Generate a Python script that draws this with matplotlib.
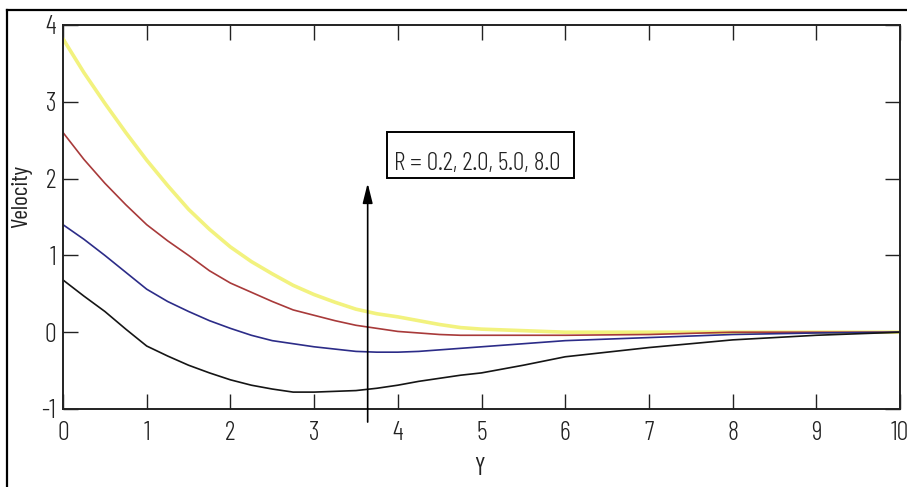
import matplotlib
matplotlib.use("Agg")
import matplotlib.pyplot as plt
from matplotlib.lines import Line2D
from matplotlib.patches import Rectangle

plt.rcParams['font.family'] = ['Barlow Condensed', 'Roboto Condensed', 'DejaVu Sans']
plt.rcParams['font.weight'] = 300

# data
y_pos = [0, 0.25, 0.5, 0.75, 1, 1.25, 1.5, 1.75, 2, 2.25, 2.5, 2.75, 3, 3.25, 3.5, 3.75,
         4, 4.25, 4.5, 4.75, 5, 5.5, 6, 7, 8, 9, 10]
vel_R8 = [3.82, 3.38, 2.98, 2.60, 2.24, 1.91, 1.60, 1.34, 1.11, 0.92, 0.76, 0.61, 0.49, 0.39, 0.30, 0.24,
          0.20, 0.15, 0.10, 0.06, 0.04, 0.02, 0.0, 0.0, 0.0, 0.0, 0.0]
vel_R5 = [2.60, 2.25, 1.94, 1.66, 1.40, 1.19, 1.00, 0.80, 0.64, 0.52, 0.40, 0.29, 0.22, 0.15, 0.09, 0.05,
          0.01, -0.01, -0.03, -0.04, -0.04, -0.04, -0.04, -0.03, 0.0, 0.0, 0.0]
vel_R2 = [1.40, 1.21, 1.00, 0.78, 0.56, 0.40, 0.27, 0.15, 0.05, -0.04, -0.11, -0.15, -0.19, -0.22, -0.25, -0.26,
          -0.26, -0.25, -0.23, -0.21, -0.19, -0.15, -0.11, -0.07, -0.03, -0.01, 0.0]
vel_R02 = [0.68, 0.47, 0.27, 0.04, -0.18, -0.31, -0.43, -0.53, -0.62, -0.69, -0.74, -0.78, -0.78, -0.77, -0.76, -0.73,
           -0.69, -0.64, -0.60, -0.56, -0.53, -0.43, -0.32, -0.20, -0.10, -0.04, 0.0]

xticks = [0, 1, 2, 3, 4, 5, 6, 7, 8, 9, 10]
yticks = [-1, 0, 1, 2, 3, 4]
label_text = "R = 0.2, 2.0, 5.0, 8.0"
arrow_x = 3.64
arrow_y0, arrow_y1 = -1.17, 1.94
box_x0, box_x1 = 3.87, 6.105
box_y0, box_y1 = 2.005, 2.604
text_xy = (3.955, 2.11)

W, H = 907, 487
fig = plt.figure(figsize=(W / 100, H / 100), dpi=100)
fig.patch.set_facecolor('white')

fig.add_artist(Line2D([7 / W, 7 / W], [0, 1 - 10 / H], transform=fig.transFigure, color='black', lw=1.6))
fig.add_artist(Line2D([7 / W, 1], [1 - 10 / H, 1 - 10 / H], transform=fig.transFigure, color='black', lw=1.6))

ax = fig.add_axes([63 / W, 1 - 409 / H, (900 - 63) / W, (409 - 25) / H])

ax.plot(y_pos, vel_R8, color='#f2f27e', lw=2.6)
ax.plot(y_pos, vel_R5, color='#a83a3a', lw=1.2)
ax.plot(y_pos, vel_R2, color='#2c2c88', lw=1.2)
ax.plot(y_pos, vel_R02, color='#151515', lw=1.2)

ax.set_xlim(0, 10)
ax.set_ylim(-1, 4)
ax.set_xticks(xticks)
ax.set_yticks(yticks)
ax.set_xticklabels([str(t) for t in xticks])
ax.set_yticklabels([str(t) for t in yticks])
ax.tick_params(direction='in', length=10.5, width=1.0, top=True, right=True,
               labelsize=19, color='#222222', labelcolor='#222222')
ax.tick_params(axis='x', pad=9)
ax.tick_params(axis='y', pad=5)
for s in ax.spines.values():
    s.set_linewidth(1.4)
    s.set_color('#222222')

ax.set_xlabel('Y', fontsize=18, color='#222222')
ax.xaxis.set_label_coords(0.498, -0.125)
ax.set_ylabel('Velocity', fontsize=17, va='center', color='#222222')
ax.yaxis.set_label_coords(-0.050, 0.555)

ax.annotate('', xy=(arrow_x, arrow_y1), xytext=(arrow_x, arrow_y0),
            arrowprops=dict(arrowstyle='-|>,head_length=1.2,head_width=0.3',
                            color='black', lw=1.2, shrinkA=0, shrinkB=0),
            annotation_clip=False)

ax.add_patch(Rectangle((box_x0, box_y0), box_x1 - box_x0, box_y1 - box_y0,
                       facecolor='white', edgecolor='black', lw=1.4, zorder=5))
ax.text(text_xy[0], text_xy[1], label_text, fontsize=18.5, ha='left', va='baseline',
        color='#222222', zorder=6)

fig.savefig('out.png', dpi=100)
